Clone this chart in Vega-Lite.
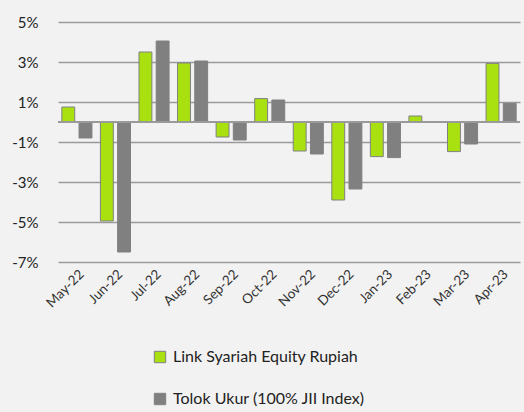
{
  "$schema": "https://vega.github.io/schema/vega-lite/v6.json",
  "autosize": {"type": "none"},
  "width": 462,
  "height": 240,
  "padding": {"left": 58, "top": 22, "right": 4, "bottom": 150},
  "background": "#f2f2f2",
  "config": {
    "view": {"stroke": null},
    "font": "Lato",
    "axis": {"labelFont": "Lato", "labelColor": "#222222"},
    "legend": {"labelFont": "Lato"}
  },
  "data": {
    "values": [
      {"month": "May-22", "series": "Link Syariah Equity Rupiah", "value": 0.75},
      {"month": "May-22", "series": "Tolok Ukur (100% JII Index)", "value": -0.8},
      {"month": "Jun-22", "series": "Link Syariah Equity Rupiah", "value": -4.95},
      {"month": "Jun-22", "series": "Tolok Ukur (100% JII Index)", "value": -6.5},
      {"month": "Jul-22", "series": "Link Syariah Equity Rupiah", "value": 3.5},
      {"month": "Jul-22", "series": "Tolok Ukur (100% JII Index)", "value": 4.05},
      {"month": "Aug-22", "series": "Link Syariah Equity Rupiah", "value": 2.95},
      {"month": "Aug-22", "series": "Tolok Ukur (100% JII Index)", "value": 3.05},
      {"month": "Sep-22", "series": "Link Syariah Equity Rupiah", "value": -0.75},
      {"month": "Sep-22", "series": "Tolok Ukur (100% JII Index)", "value": -0.9},
      {"month": "Oct-22", "series": "Link Syariah Equity Rupiah", "value": 1.17},
      {"month": "Oct-22", "series": "Tolok Ukur (100% JII Index)", "value": 1.1},
      {"month": "Nov-22", "series": "Link Syariah Equity Rupiah", "value": -1.45},
      {"month": "Nov-22", "series": "Tolok Ukur (100% JII Index)", "value": -1.6},
      {"month": "Dec-22", "series": "Link Syariah Equity Rupiah", "value": -3.9},
      {"month": "Dec-22", "series": "Tolok Ukur (100% JII Index)", "value": -3.35},
      {"month": "Jan-23", "series": "Link Syariah Equity Rupiah", "value": -1.73},
      {"month": "Jan-23", "series": "Tolok Ukur (100% JII Index)", "value": -1.78},
      {"month": "Feb-23", "series": "Link Syariah Equity Rupiah", "value": 0.3},
      {"month": "Feb-23", "series": "Tolok Ukur (100% JII Index)", "value": -0.02},
      {"month": "Mar-23", "series": "Link Syariah Equity Rupiah", "value": -1.48},
      {"month": "Mar-23", "series": "Tolok Ukur (100% JII Index)", "value": -1.1},
      {"month": "Apr-23", "series": "Link Syariah Equity Rupiah", "value": 2.93},
      {"month": "Apr-23", "series": "Tolok Ukur (100% JII Index)", "value": 0.93}
    ]
  },
  "layer": [
    {
      "mark": {"type": "bar", "stroke": "#808080", "strokeWidth": 1},
      "encoding": {
        "x": {
          "field": "month", "type": "nominal", "sort": null,
          "scale": {"paddingInner": 0.22, "paddingOuter": 0.1},
          "axis": {"title": null, "labelAngle": -45, "labelFontSize": 13.5, "labelColor": "#333333", "ticks": false, "domain": false, "labelPadding": 5, "grid": false, "labelOverlap": false}
        },
        "xOffset": {"field": "series", "type": "nominal", "scale": {"paddingInner": 0.25}},
        "y": {
          "field": "value", "type": "quantitative",
          "scale": {"domain": [-7, 5], "nice": false, "zero": false},
          "axis": {"title": null, "values": [-7, -5, -3, -1, 1, 3, 5], "tickCount": 20, "labelExpr": "datum.value + '%'", "labelFontSize": 15, "labelPadding": 20, "ticks": false, "domain": false, "grid": true, "gridColor": "#9a9a9a", "gridWidth": 1.5, "labelOverlap": false}
        },
        "color": {
          "field": "series", "type": "nominal",
          "scale": {"domain": ["Link Syariah Equity Rupiah", "Tolok Ukur (100% JII Index)"], "range": ["#a8e010", "#808080"]},
          "legend": {
            "title": null, "orient": "none", "legendX": 94, "legendY": 327,
            "direction": "vertical", "symbolType": "square", "symbolSize": 130,
            "symbolStrokeColor": "#808080", "symbolStrokeWidth": 1,
            "labelFontSize": 16, "labelColor": "#222222", "rowPadding": 26, "labelOffset": 5, "labelLimit": 0
          }
        }
      }
    },
    {
      "mark": {"type": "rule", "color": "#9a9a9a", "strokeWidth": 1.5},
      "encoding": {"y": {"datum": 0}}
    }
  ]
}
